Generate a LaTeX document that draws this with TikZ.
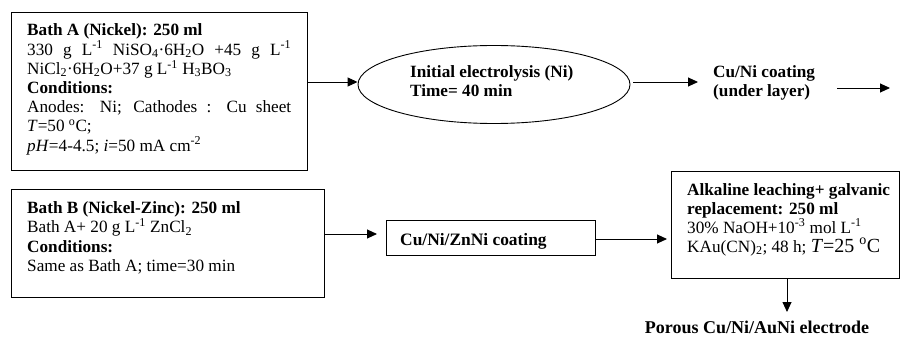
\documentclass[tikz,border=0pt]{standalone}
\usepackage{fontspec}
\setmainfont{Liberation Serif}
\usetikzlibrary{arrows.meta,shapes.geometric}
\newcommand{\sps}[1]{\textsuperscript{#1}}
\newcommand{\sbs}[1]{\textsubscript{#1}}
\newcommand{\tblock}[3]{\begin{minipage}[t]{#1}\fontsize{17.2}{#2}\selectfont #3\end{minipage}}
\tikzset{
  frame/.style={draw, line width=0.9pt, anchor=north west, inner sep=0pt},
  txt/.style={anchor=base west, inner sep=0pt},
  arr/.style={line width=0.9pt, -{Triangle[length=10pt,width=9pt]}}
}
\begin{document}
\begin{tikzpicture}[x=1pt,y=-1pt]
\useasboundingbox (0,0) rectangle (901,339);
% Bath A
\node[frame, minimum width=296pt, minimum height=158pt] (boxA) at (11,12) {};
\node[txt] (textA) at (27,36) {\tblock{264pt}{19.2}{%
\textbf{Bath A (Nickel): 250 ml}\\
\makebox[\linewidth][s]{330 g L\sps{-1} NiSO\sbs{4}·6H\sbs{2}O +45 g L\sps{-1}}\\
NiCl\sbs{2}·6H\sbs{2}O+37 g L\sps{-1} H\sbs{3}BO\sbs{3}\\
\textbf{Conditions:}\\
\makebox[\linewidth][s]{Anodes: Ni; Cathodes : Cu sheet}\\
\textit{T}=50 \sps{o}C;\\
\textit{pH}=4-4.5; \textit{i}=50 mA cm\sps{-2}}};
% ellipse
\node[draw, ellipse, line width=0.9pt, minimum width=272pt, minimum height=78pt, inner sep=0pt] (ell) at (494,84.5) {};
\node[txt] (elltext) at (410,78) {\tblock{200pt}{19}{\bfseries Initial electrolysis (Ni)\\Time= 40 min}};
% Cu/Ni coating
\node[txt] (cuni) at (713,78) {\tblock{150pt}{19}{\bfseries Cu/Ni coating\\(under layer)}};
\coordinate (outA) at (890,88);
% Bath B
\node[frame, minimum width=313pt, minimum height=108pt] (boxB) at (11,189) {};
\node[txt] (textB) at (27,213) {\tblock{290pt}{19.5}{%
\textbf{Bath B (Nickel-Zinc): 250 ml}\\
Bath A+ 20 g L\sps{-1} ZnCl\sbs{2}\\
\textbf{Conditions:}\\
Same as Bath A; time=30 min}};
% Cu/Ni/ZnNi
\node[frame, minimum width=209pt, minimum height=35pt] (zn) at (386,220) {};
\node[txt, font=\fontsize{17.4}{19}\selectfont\bfseries] (zntext) at (400,245) {Cu/Ni/ZnNi coating};
% leaching
\node[frame, minimum width=228pt, minimum height=107pt] (leach) at (671,171) {};
\node[txt] (leachtext) at (687,195) {\tblock{210pt}{19}{%
\textbf{Alkaline leaching+ galvanic}\\
\textbf{replacement: 250 ml}\\
30\% NaOH+10\sps{-3} mol L\sps{-1}\\
KAu(CN)\sbs{2}; 48 h; {\fontsize{20}{19}\selectfont\textit{T}=25 \sps{o}C}}};
% porous
\node[anchor=base, inner sep=0pt, font=\fontsize{18}{20}\selectfont\bfseries] (porous) at (757,333) {Porous Cu/Ni/AuNi electrode};
% arrows
\draw[arr] (boxA.east |- 0,82) -- (ell.west |- 0,82);
\draw[arr, shorten <=3pt, shorten >=15pt] (ell.east |- 0,82) -- (cuni.west |- 0,82);
\draw[arr] (837,88) -- (outA);
\draw[arr, shorten >=9pt] (boxB.east |- 0,234) -- (zn.west |- 0,234);
\draw[arr, shorten >=4pt] (zn.east |- 0,239) -- (leach.west |- 0,239);
\draw[arr] (leach.south -| 787,0) -- (787,312);
\end{tikzpicture}
\end{document}
